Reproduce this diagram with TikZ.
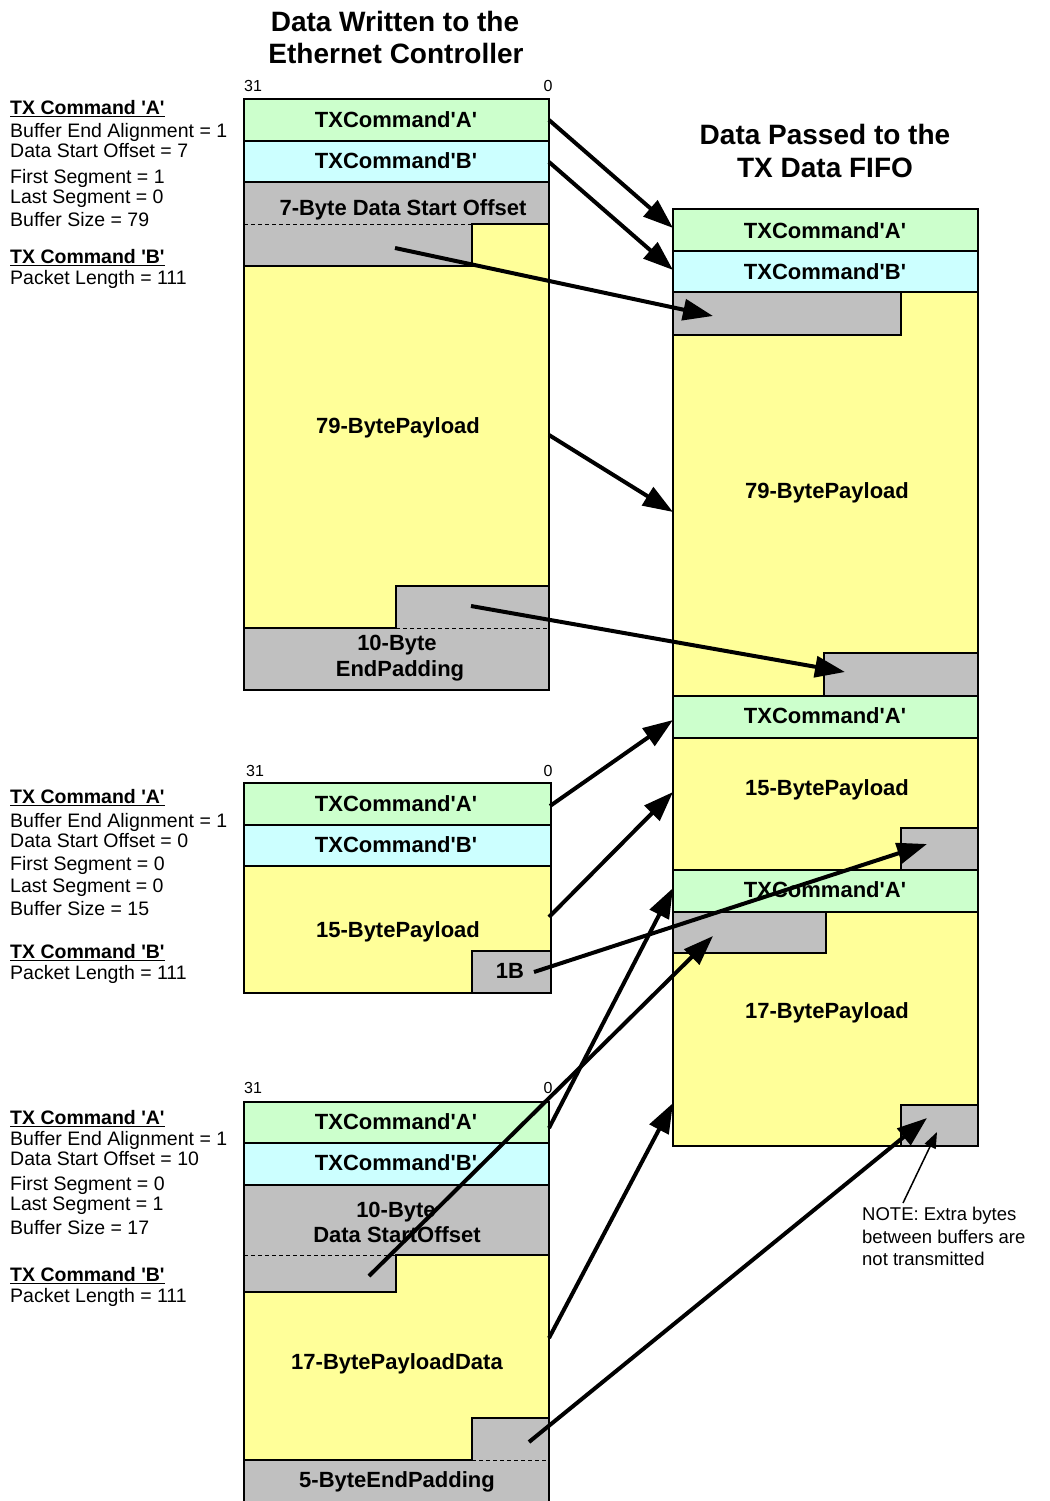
\documentclass[tikz,border=0pt]{standalone}
\usepackage{fontspec}
\setmainfont{Liberation Sans}
\usetikzlibrary{arrows.meta}
\definecolor{cmdA}{HTML}{CCFFCC}
\definecolor{cmdB}{HTML}{CCFFFF}
\definecolor{padc}{HTML}{C0C0C0}
\definecolor{payc}{HTML}{FFFF99}
\newcommand{\sq}{\textquotesingle}
\begin{document}
\begin{tikzpicture}[x=1pt,y=-1pt,
  box/.style={draw=black, line width=1.5pt},
  dash line/.style={draw=black, line width=1pt, dash pattern=on 4pt off 3pt},
  lbl/.style={font=\fontsize{22}{24}\selectfont\bfseries, text height=15.5pt, text depth=0pt, inner sep=0pt},
  ttl/.style={font=\fontsize{28}{30}\selectfont\bfseries, text height=20pt, text depth=0pt, inner sep=0pt},
  side/.style={font=\fontsize{19.5}{21}\selectfont, anchor=base west, inner sep=0pt},
  bit/.style={font=\fontsize{16}{18}\selectfont, text height=11.5pt, text depth=0pt, inner sep=0pt},
  note/.style={font=\fontsize{18.5}{20}\selectfont, anchor=base west, inner sep=0pt},
  flow/.style={line width=4pt, -{Triangle[length=30pt,width=21pt]}},
  thin flow/.style={line width=1.5pt, -{Triangle[length=16pt,width=12pt]}}
]
\useasboundingbox (0,0) rectangle (1049,1501);

% ---------- Titles ----------
\node[ttl] (t1a) at (395,22) {Data Written to the};
\node[ttl] (t1b) at (396,54) {Ethernet Controller};
\node[ttl] (t2a) at (825,134) {Data Passed to the};
\node[ttl] (t2b) at (825,167) {TX Data FIFO};

% ---------- Block 1 ----------
\node[bit] (b1h) at (253,86) {31};
\node[bit] (b1l) at (548,86) {0};
\fill[payc] (244,182) rectangle (549,690);
\filldraw[box, fill=cmdA] (244,99) rectangle (549,141);
\filldraw[box, fill=cmdB] (244,141) rectangle (549,182);
\filldraw[box, fill=padc] (244,182) -- (549,182) -- (549,224) -- (472,224) -- (472,266) -- (244,266) -- cycle;
\filldraw[box, fill=padc] (396,586) -- (549,586) -- (549,690) -- (244,690) -- (244,628) -- (396,628) -- cycle;
\draw[dash line] (244,224) -- (472,224);
\draw[dash line] (396,628) -- (549,628);
\draw[box] (244,99) rectangle (549,690);
\node[lbl] (b1a) at (396,120) {TXCommand\sq A\sq};
\node[lbl] (b1b) at (396,161) {TXCommand\sq B\sq};
\node[lbl] (b1o) at (403,208) {7-Byte Data Start Offset};
\node[lbl] (b1p) at (398,426) {79-BytePayload};
\node[lbl] (b1e1) at (397,643) {10-Byte};
\node[lbl] (b1e2) at (400,669) {EndPadding};

% ---------- Block 2 ----------
\node[bit] (b2h) at (255,771) {31};
\node[bit] (b2l) at (548,771) {0};
\filldraw[box, fill=cmdA] (244,783) rectangle (551,825);
\filldraw[box, fill=cmdB] (244,825) rectangle (551,866);
\filldraw[box, fill=payc] (244,866) rectangle (551,993);
\filldraw[box, fill=padc] (472,951) rectangle (551,993);
\draw[box] (244,783) rectangle (551,993);
\node[lbl] (b2a) at (396,804) {TXCommand\sq A\sq};
\node[lbl] (b2b) at (396,845) {TXCommand\sq B\sq};
\node[lbl] (b2p) at (398,930) {15-BytePayload};
\node[lbl] (b2x) at (510,971) {1B};

% ---------- Block 3 ----------
\node[bit] (b3h) at (253,1088) {31};
\node[bit] (b3l) at (548,1088) {0};
\fill[payc] (244,1185) rectangle (549,1504);
\filldraw[box, fill=cmdA] (244,1102) rectangle (549,1143);
\filldraw[box, fill=cmdB] (244,1143) rectangle (549,1185);
\filldraw[box, fill=padc] (244,1185) -- (549,1185) -- (549,1255) -- (396,1255) -- (396,1292) -- (244,1292) -- cycle;
\filldraw[box, fill=padc] (472,1418) -- (549,1418) -- (549,1504) -- (244,1504) -- (244,1460) -- (472,1460) -- cycle;
\draw[dash line] (244,1255) -- (396,1255);
\draw[dash line] (472,1460) -- (549,1460);
\draw[box] (244,1102) rectangle (549,1504);
\node[lbl] (b3a) at (396,1122) {TXCommand\sq A\sq};
\node[lbl] (b3b) at (396,1163) {TXCommand\sq B\sq};
\node[lbl] (b3o1) at (396,1210) {10-Byte};
\node[lbl] (b3o2) at (397,1235) {Data StartOffset};
\node[lbl] (b3p) at (397,1362) {17-BytePayloadData};
\node[lbl] (b3e) at (397,1480) {5-ByteEndPadding};

% ---------- Right block (FIFO) ----------
\fill[payc] (673,292) rectangle (978,1146);
\filldraw[box, fill=cmdA] (673,209) rectangle (978,251);
\filldraw[box, fill=cmdB] (673,251) rectangle (978,292);
\filldraw[box, fill=padc] (673,292) rectangle (901,335);
\filldraw[box, fill=padc] (824,653) rectangle (978,696);
\filldraw[box, fill=cmdA] (673,696) rectangle (978,738);
\filldraw[box, fill=padc] (901,828) rectangle (978,870);
\filldraw[box, fill=cmdA] (673,870) rectangle (978,912);
\filldraw[box, fill=padc] (673,912) rectangle (826,953);
\filldraw[box, fill=padc] (901,1105) rectangle (978,1146);
\draw[box] (673,209) rectangle (978,1146);
\node[lbl] (ra1) at (825,231) {TXCommand\sq A\sq};
\node[lbl] (rb1) at (825,272) {TXCommand\sq B\sq};
\node[lbl] (rp1) at (827,491) {79-BytePayload};
\node[lbl] (ra2) at (825,716) {TXCommand\sq A\sq};
\node[lbl] (rp2) at (827,788) {15-BytePayload};
\node[lbl] (ra3) at (825,890) {TXCommand\sq A\sq};
\node[lbl] (rp3) at (827,1011) {17-BytePayload};

% ---------- Side labels ----------
\node[side] (s1a) at (10,115) {\textbf{\underline{TX Command \sq A\sq}}};
\node[side] (s1b) at (10,137.5) {Buffer End Alignment = 1};
\node[side] (s1c) at (10,157.5) {Data Start Offset = 7};
\node[side] (s1d) at (10,183.5) {First Segment = 1};
\node[side] (s1e) at (10,203.5) {Last Segment = 0};
\node[side] (s1f) at (10,226.5) {Buffer Size = 79};
\node[side] (s1g) at (10,263.5) {\textbf{\underline{TX Command \sq B\sq}}};
\node[side] (s1h) at (10,284.5) {Packet Length = 111};

\node[side] (s2a) at (10,803.5) {\textbf{\underline{TX Command \sq A\sq}}};
\node[side] (s2b) at (10,827.5) {Buffer End Alignment = 1};
\node[side] (s2c) at (10,847.5) {Data Start Offset = 0};
\node[side] (s2d) at (10,870.5) {First Segment = 0};
\node[side] (s2e) at (10,892.5) {Last Segment = 0};
\node[side] (s2f) at (10,915.5) {Buffer Size = 15};
\node[side] (s2g) at (10,958.5) {\textbf{\underline{TX Command \sq B\sq}}};
\node[side] (s2h) at (10,979.5) {Packet Length = 111};

\node[side] (s3a) at (10,1124.5) {\textbf{\underline{TX Command \sq A\sq}}};
\node[side] (s3b) at (10,1145.5) {Buffer End Alignment = 1};
\node[side] (s3c) at (10,1165.5) {Data Start Offset = 10};
\node[side] (s3d) at (10,1190.5) {First Segment = 0};
\node[side] (s3e) at (10,1210.5) {Last Segment = 1};
\node[side] (s3f) at (10,1234.5) {Buffer Size = 17};
\node[side] (s3g) at (10,1281.5) {\textbf{\underline{TX Command \sq B\sq}}};
\node[side] (s3h) at (10,1302.5) {Packet Length = 111};

% ---------- Note ----------
\node[note] (n1) at (862,1220) {NOTE:\ Extra bytes};
\node[note] (n2) at (862,1243) {between buffers are};
\node[note] (n3) at (862,1265) {not transmitted};

% ---------- Arrow end points ----------
\coordinate (a1s) at (549,120);  \coordinate (a1e) at (673,228);
\coordinate (a2s) at (549,162);  \coordinate (a2e) at (673,270);
\coordinate (a3s) at (395,248);  \coordinate (a3e) at (713,316);
\coordinate (a4s) at (549,435);  \coordinate (a4e) at (673,512);
\coordinate (a5s) at (471,606);  \coordinate (a5e) at (845,672);
\coordinate (a6s) at (550,806);  \coordinate (a6e) at (673,720);
\coordinate (a7s) at (549,917);  \coordinate (a7e) at (673,792);
\coordinate (a8s) at (534,972);  \coordinate (a8e) at (927,844);
\coordinate (a9s) at (549,1128); \coordinate (a9e) at (673,888);
\coordinate (a10s) at (369,1276); \coordinate (a10e) at (713,936);
\coordinate (a11s) at (549,1338); \coordinate (a11e) at (673,1103);
\coordinate (a12s) at (529,1442); \coordinate (a12e) at (927,1118);
\coordinate (nts) at (903,1203); \coordinate (nte) at (937,1132);

\draw[flow] (a1s) -- (a1e);
\draw[flow] (a2s) -- (a2e);
\draw[flow] (a3s) -- (a3e);
\draw[flow] (a4s) -- (a4e);
\draw[flow] (a5s) -- (a5e);
\draw[flow] (a6s) -- (a6e);
\draw[flow] (a7s) -- (a7e);
\draw[flow] (a8s) -- (a8e);
\draw[flow] (a9s) -- (a9e);
\draw[flow] (a10s) -- (a10e);
\draw[flow] (a11s) -- (a11e);
\draw[flow] (a12s) -- (a12e);
\draw[thin flow] (nts) -- (nte);
\end{tikzpicture}
\end{document}
